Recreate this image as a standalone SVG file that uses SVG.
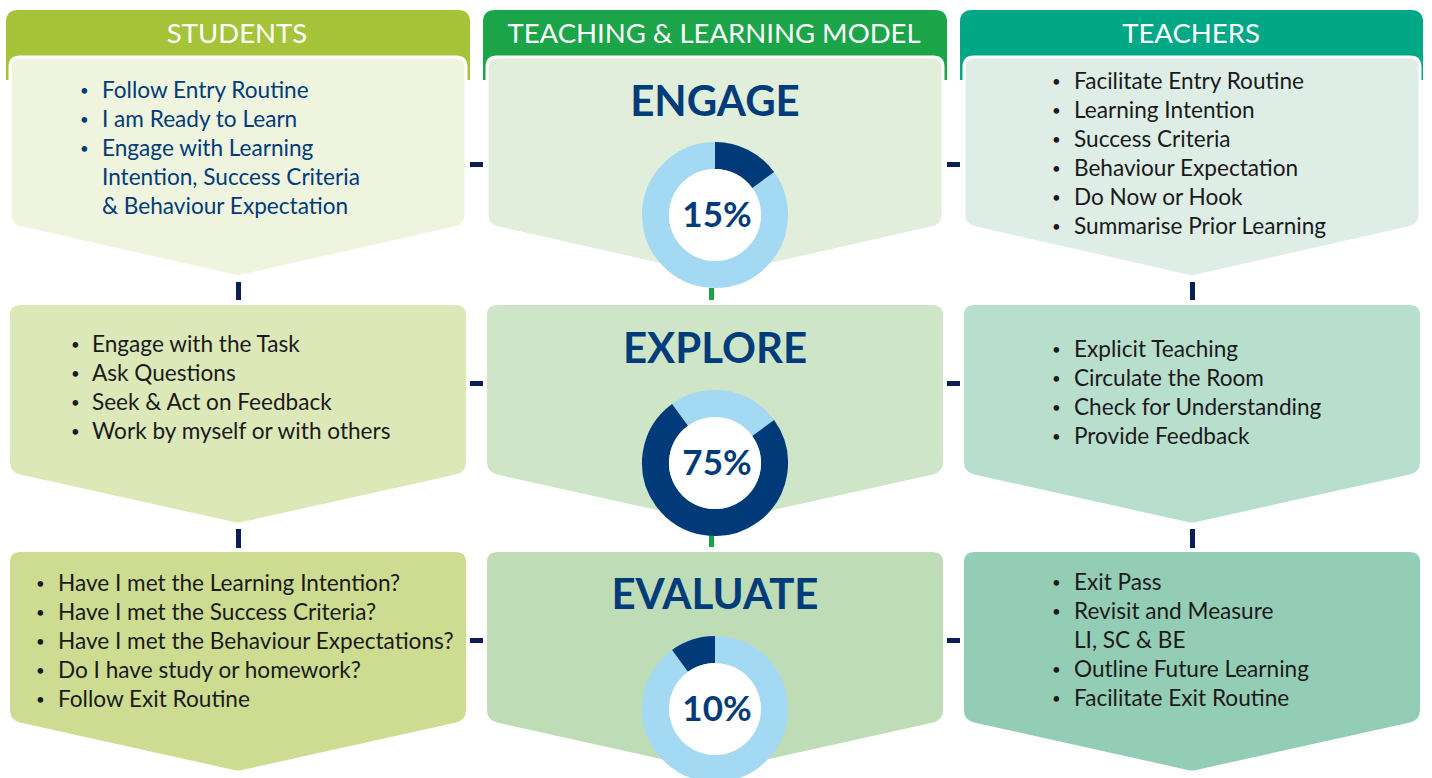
<svg xmlns="http://www.w3.org/2000/svg" width="1432" height="778" viewBox="0 0 1432 778">
<style>
.hd{font-family:Lato,"Source Sans Pro","Open Sans",sans-serif;font-size:27.5px;fill:#ffffff;text-anchor:middle}
.tt{font-family:Lato,"Open Sans",sans-serif;font-size:42px;font-weight:bold;fill:#003b7a;text-anchor:middle}
.pc{font-family:Lato,"Open Sans",sans-serif;font-size:35px;font-weight:bold;fill:#003b7a;text-anchor:middle}
.b{font-family:Lato,"Open Sans",sans-serif;font-size:22.6px;fill:#1a1a1a}
.n{font-family:Lato,"Open Sans",sans-serif;font-size:22.6px;fill:#003b7a}
.d{font-size:15px}
.pent{stroke:#ffffff;stroke-width:3}
.tk{fill:#0b1f55}
.tg{fill:#1ba34a}
.lt{fill:none;stroke:#a3d9f2;stroke-width:27}
.dk{fill:none;stroke:#003a78;stroke-width:27}
</style>

<g id="connectors">
  <rect class="tk" x="236" y="282" width="5" height="18"/>
  <rect class="tk" x="236" y="529" width="5" height="19"/>
  <rect class="tk" x="1190" y="282" width="5" height="18"/>
  <rect class="tk" x="1190" y="529" width="5" height="19"/>
  <rect class="tg" x="709" y="288" width="5" height="12"/>
  <rect class="tg" x="709" y="535" width="5" height="12"/>
  <rect class="tk" x="470" y="162" width="13" height="5"/>
  <rect class="tk" x="947" y="162" width="13" height="5"/>
  <rect class="tk" x="470" y="381" width="13" height="5"/>
  <rect class="tk" x="947" y="381" width="13" height="5"/>
  <rect class="tk" x="470" y="638" width="13" height="5"/>
  <rect class="tk" x="947" y="638" width="13" height="5"/>
</g>

<g id="header-students">
  <path d="M6,80 V22 Q6,10 18,10 H458 Q470,10 470,22 V80 Z" fill="#a5c43a"/>
  <text class="hd" x="237" y="43">STUDENTS</text>
</g>
<g id="header-model">
  <path d="M483,80 V22 Q483,10 495,10 H935 Q947,10 947,22 V80 Z" fill="#1ba548"/>
  <text class="hd" x="714" y="43">TEACHING &amp; LEARNING MODEL</text>
</g>
<g id="header-teachers">
  <path d="M960,80 V22 Q960,10 972,10 H1411 Q1423,10 1423,22 V80 Z" fill="#00a886"/>
  <text class="hd" x="1191" y="43">TEACHERS</text>
</g>

<!-- Row 1 -->
<g id="students-engage">
  <path class="pent" d="M20,57 H456 Q466,57 466,67 V215 Q466,225 456,227.5 L242,276 Q238,277 234,276 L20,227.5 Q10,225 10,215 V67 Q10,57 20,57 Z" fill="#eef4dd"/>
  <g class="n">
    <text class="d" x="80" y="96">•</text><text x="102" y="98">Follow Entry Routine</text>
    <text class="d" x="80" y="125">•</text><text x="102" y="127">I am Ready to Learn</text>
    <text class="d" x="80" y="154">•</text><text x="102" y="156">Engage with Learning</text>
    <text x="102" y="185">Intention, Success Criteria</text>
    <text x="102" y="214">&amp; Behaviour Expectation</text>
  </g>
</g>
<g id="model-engage">
  <path class="pent" d="M497,57 H933 Q943,57 943,67 V215 Q943,225 933,227.5 L719,276 Q715,277 711,276 L497,227.5 Q487,225 487,215 V67 Q487,57 497,57 Z" fill="#e0eedb"/>
  <text class="tt" x="715" y="116">ENGAGE</text>
  <circle class="lt" cx="715" cy="215" r="59.5"/>
  <path class="dk" d="M715,155.5 A59.5,59.5 0 0 1 763.14,180.03"/>
  <circle cx="715" cy="215" r="46" fill="#ffffff"/>
  <text class="pc" x="717" y="227">15%</text>
</g>
<g id="teachers-engage">
  <path class="pent" d="M974,57 H1410 Q1420,57 1420,67 V215 Q1420,225 1410,227.5 L1196,276 Q1192,277 1188,276 L974,227.5 Q964,225 964,215 V67 Q964,57 974,57 Z" fill="#deede6"/>
  <g class="b">
    <text class="d" x="1052" y="87">•</text><text x="1074" y="89">Facilitate Entry Routine</text>
    <text class="d" x="1052" y="116">•</text><text x="1074" y="118">Learning Intention</text>
    <text class="d" x="1052" y="145">•</text><text x="1074" y="147">Success Criteria</text>
    <text class="d" x="1052" y="174">•</text><text x="1074" y="176">Behaviour Expectation</text>
    <text class="d" x="1052" y="203">•</text><text x="1074" y="205">Do Now or Hook</text>
    <text class="d" x="1052" y="232">•</text><text x="1074" y="234">Summarise Prior Learning</text>
  </g>
</g>

<!-- Row 2 -->
<g id="students-explore">
  <path d="M20,305 H456 Q466,305 466,315 V462 Q466,472 456,474.5 L242,522 Q238,523 234,522 L20,474.5 Q10,472 10,462 V315 Q10,305 20,305 Z" fill="#dde8b9"/>
  <g class="b">
    <text class="d" x="71" y="350">•</text><text x="92" y="352">Engage with the Task</text>
    <text class="d" x="71" y="379">•</text><text x="92" y="381">Ask Questions</text>
    <text class="d" x="71" y="408">•</text><text x="92" y="410">Seek &amp; Act on Feedback</text>
    <text class="d" x="71" y="437">•</text><text x="92" y="439">Work by myself or with others</text>
  </g>
</g>
<g id="model-explore">
  <path d="M497,305 H933 Q943,305 943,315 V462 Q943,472 933,474.5 L719,522 Q715,523 711,522 L497,474.5 Q487,472 487,462 V315 Q487,305 497,305 Z" fill="#cfe5c8"/>
  <text class="tt" x="715" y="363">EXPLORE</text>
  <circle class="lt" cx="715" cy="463" r="59.5"/>
  <path class="dk" d="M763.14,428.03 A59.5,59.5 0 1 1 680.03,414.86"/>
  <circle cx="715" cy="463" r="46" fill="#ffffff"/>
  <text class="pc" x="717" y="475">75%</text>
</g>
<g id="teachers-explore">
  <path d="M974,305 H1410 Q1420,305 1420,315 V462 Q1420,472 1410,474.5 L1196,522 Q1192,523 1188,522 L974,474.5 Q964,472 964,462 V315 Q964,305 974,305 Z" fill="#b8dece"/>
  <g class="b">
    <text class="d" x="1052" y="355">•</text><text x="1074" y="357">Explicit Teaching</text>
    <text class="d" x="1052" y="384">•</text><text x="1074" y="386">Circulate the Room</text>
    <text class="d" x="1052" y="413">•</text><text x="1074" y="415">Check for Understanding</text>
    <text class="d" x="1052" y="442">•</text><text x="1074" y="444">Provide Feedback</text>
  </g>
</g>

<!-- Row 3 -->
<g id="students-evaluate">
  <path d="M20,552 H456 Q466,552 466,562 V710 Q466,720 456,722.5 L242,770 Q238,771 234,770 L20,722.5 Q10,720 10,710 V562 Q10,552 20,552 Z" fill="#cddc91"/>
  <g class="b">
    <text class="d" x="36" y="589">•</text><text x="58" y="591">Have I met the Learning Intention?</text>
    <text class="d" x="36" y="618">•</text><text x="58" y="620">Have I met the Success Criteria?</text>
    <text class="d" x="36" y="647">•</text><text x="58" y="649">Have I met the Behaviour Expectations?</text>
    <text class="d" x="36" y="676">•</text><text x="58" y="678">Do I have study or homework?</text>
    <text class="d" x="36" y="705">•</text><text x="58" y="707">Follow Exit Routine</text>
  </g>
</g>
<g id="model-evaluate">
  <path d="M497,552 H933 Q943,552 943,562 V710 Q943,720 933,722.5 L719,770 Q715,771 711,770 L497,722.5 Q487,720 487,710 V562 Q487,552 497,552 Z" fill="#bedcb5"/>
  <text class="tt" x="715" y="609">EVALUATE</text>
  <circle class="lt" cx="715" cy="709" r="59.5"/>
  <path class="dk" d="M680.03,660.86 A59.5,59.5 0 0 1 715,649.5"/>
  <circle cx="715" cy="709" r="46" fill="#ffffff"/>
  <text class="pc" x="717" y="721">10%</text>
</g>
<g id="teachers-evaluate">
  <path d="M974,552 H1410 Q1420,552 1420,562 V710 Q1420,720 1410,722.5 L1196,770 Q1192,771 1188,770 L974,722.5 Q964,720 964,710 V562 Q964,552 974,552 Z" fill="#94cdb5"/>
  <g class="b">
    <text class="d" x="1052" y="588">•</text><text x="1074" y="590">Exit Pass</text>
    <text class="d" x="1052" y="617">•</text><text x="1074" y="619">Revisit and Measure</text>
    <text x="1074" y="648">LI, SC &amp; BE</text>
    <text class="d" x="1052" y="675">•</text><text x="1074" y="677">Outline Future Learning</text>
    <text class="d" x="1052" y="704">•</text><text x="1074" y="706">Facilitate Exit Routine</text>
  </g>
</g>
</svg>
